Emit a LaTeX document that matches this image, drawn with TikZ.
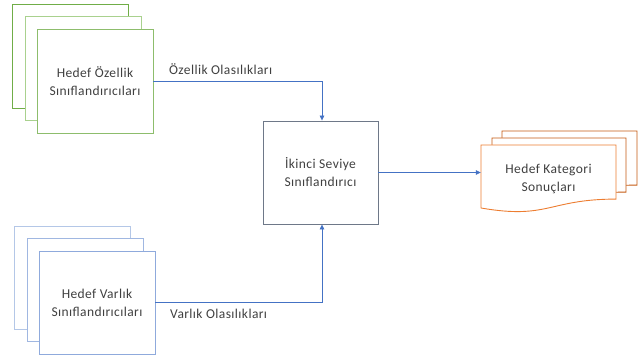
\documentclass[tikz,border=0pt]{standalone}
\usepackage{fontspec}
\setmainfont[LetterSpace=3]{Carlito}
\usetikzlibrary{arrows.meta}
\definecolor{gr}{HTML}{70AD47}
\definecolor{grl}{HTML}{A9D18E}
\definecolor{bl}{HTML}{8FAADC}
\definecolor{bll}{HTML}{B4C7E7}
\definecolor{ln}{HTML}{4472C4}
\definecolor{orf}{HTML}{ED7D31}
\definecolor{ord}{HTML}{C55A11}
\definecolor{tx}{HTML}{404040}
\definecolor{gy}{HTML}{6E7888}
\begin{document}
\begin{tikzpicture}[x=1pt,y=-1pt,
  font=\fontsize{13.5}{18}\selectfont, text=tx,
  box/.style={draw, fill=white, line width=0.9pt, minimum width=116pt, minimum height=104pt, align=center, inner sep=0pt},
  conn/.style={draw=ln, line width=0.7pt, -{Triangle[length=5pt,width=4.5pt]}},
  lbl/.style={anchor=west, inner sep=0pt},
  docline/.style={line width=0.9pt, fill=white}]
\useasboundingbox (0,0) rectangle (638,358);
% green stack
\node[box, draw=gr] (g1) at (70,56) {};
\node[box, draw=grl] (g2) at (83,68.5) {};
\node[box, draw=gr!80!white] (fg) at (95,81) {Hedef Özellik\\Sınıflandırıcıları};
% blue stack
\node[box, draw=bll, minimum height=103pt] (b1) at (72,277.5) {};
\node[box, draw=bl!85!white, minimum height=103pt] (b2) at (85,289.5) {};
\node[box, draw=bl, minimum height=103pt] (fb) at (97,302.5) {Hedef Varlık\\Sınıflandırıcıları};
% second level
\node[box, draw=gy, line width=0.9pt, minimum width=115pt, minimum height=103pt] (sec) at (320.5,172.5) {İkinci Seviye\\Sınıflandırıcı};
% documents
\draw[docline, draw=ord] (502,131) -- (637,131) -- (637,185.1) .. controls (569.5,185.1) and (569.5,205.7) .. (502,194) -- cycle;
\draw[docline, draw=ord] (492,138) -- (626,138) -- (626,192.1) .. controls (559,192.1) and (559,212.7) .. (492,201) -- cycle;
\draw[docline, draw=orf] (481,145) -- (616,145) -- (616,199.1) .. controls (548.5,199.1) and (548.5,219.7) .. (481,208) -- cycle;
\node[minimum width=135pt, minimum height=67.5pt, inner sep=0pt, align=center] (res) at (548.5,178.5) {Hedef Kategori\\Sonuçları};
% connectors
\draw[conn] (fg.east) -| ([xshift=1.5pt]sec.north);
\draw[conn] (fb.east) -| ([xshift=1.5pt]sec.south);
\draw[conn] (sec.east) -- (sec.east -| res.west);
% labels
\node[lbl] (l1) at (169,69) {Özellik Olasılıkları};
\node[lbl] (l2) at (170,314) {Varlık Olasılıkları};
\end{tikzpicture}
\end{document}
